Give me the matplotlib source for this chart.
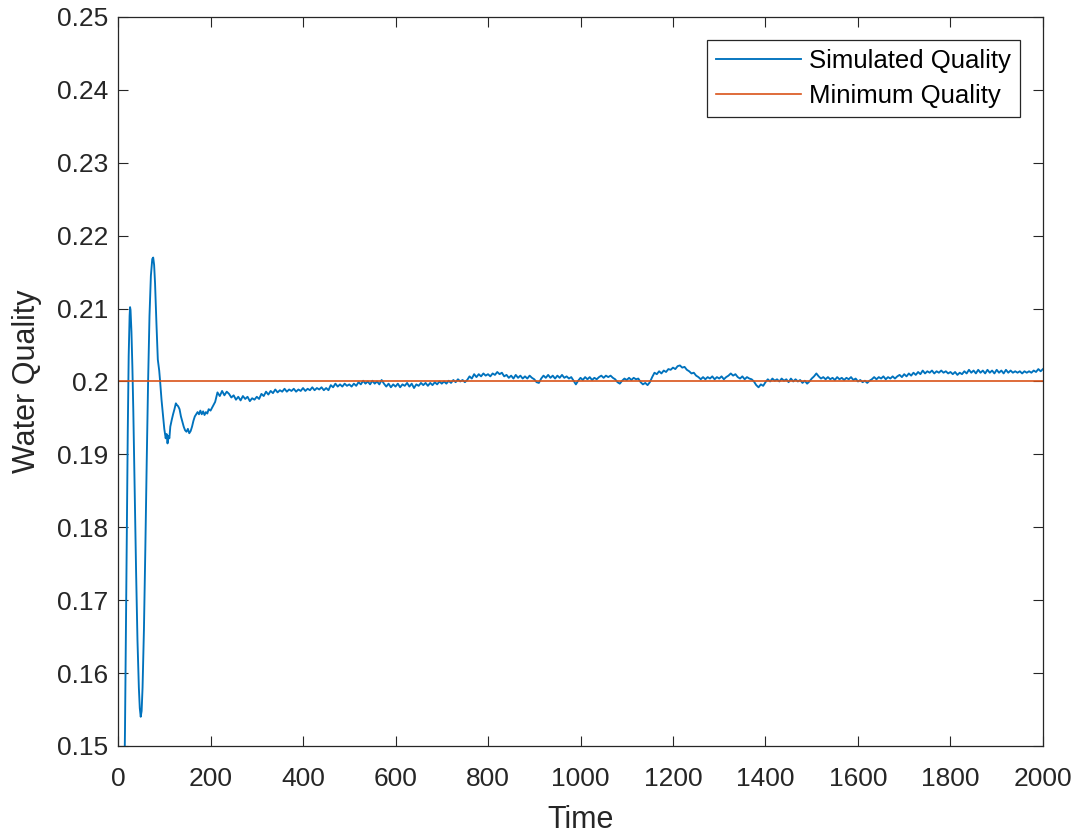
import numpy as np
import matplotlib.pyplot as plt

plt.rcParams['font.family'] = ['Liberation Sans', 'DejaVu Sans']

# start-up transient
t_early = [0, 5, 10, 15, 18, 21, 23, 25, 26, 27, 29, 31, 33, 36, 39, 42, 45, 47, 49, 51,
           53, 56, 59, 62, 65, 68, 71, 74, 76, 78, 80, 83, 86, 89, 91, 94, 97, 100, 103, 105,
           107, 109, 111, 113, 116, 119, 122, 125, 127, 130, 133, 136, 139, 142, 145, 148, 151, 154, 157, 160,
           163, 166, 169, 172, 175, 178, 181, 184, 187, 190, 193, 196]
q_early = [0.060, 0.095, 0.128, 0.152, 0.172, 0.193, 0.2035, 0.2090, 0.2102, 0.2098,
           0.2068, 0.2020, 0.1960, 0.1850, 0.1740, 0.1645, 0.1580, 0.1552, 0.1540, 0.1548,
           0.1580, 0.1660, 0.1770, 0.1890, 0.2000, 0.2090, 0.2145, 0.2168, 0.2170, 0.2160,
           0.2135, 0.2080, 0.2030, 0.2015, 0.2000, 0.1975, 0.1955, 0.1935, 0.1922, 0.1928,
           0.1915, 0.1925, 0.1922, 0.1938, 0.1947, 0.1955, 0.1962, 0.1970, 0.1968, 0.1966,
           0.1962, 0.1952, 0.1945, 0.1938, 0.1933, 0.1931, 0.1935, 0.1929, 0.1932, 0.1938,
           0.1946, 0.1952, 0.1955, 0.1958, 0.1955, 0.1960, 0.1955, 0.1959, 0.1954, 0.1958,
           0.1956, 0.1962]

# steady part, every 5 time units from 200 to 2000
t_late = np.arange(200, 2001, 5)
q_late = [
    0.1960, 0.1966, 0.1972, 0.1985, 0.1980, 0.1987, 0.1981, 0.1986, 0.1983, 0.1978, 0.1981, 0.1975, 0.1979, 0.1974, 0.1980, 0.1976, 0.1979, 0.1973, 0.1977, 0.1975,
    0.1979, 0.1976, 0.1983, 0.1980, 0.1986, 0.1982, 0.1987, 0.1984, 0.1989, 0.1985, 0.1988, 0.1986, 0.1990, 0.1986, 0.1989, 0.1987, 0.1990, 0.1986, 0.1989, 0.1987,
    0.1991, 0.1987, 0.1990, 0.1988, 0.1992, 0.1988, 0.1991, 0.1989, 0.1992, 0.1988, 0.1991, 0.1988, 0.1995, 0.1992, 0.1997, 0.1993, 0.1996, 0.1993, 0.1997, 0.1994,
    0.1996, 0.1993, 0.1997, 0.1994, 0.1999, 0.1996, 0.2001, 0.1997, 0.2000, 0.1996, 0.2001, 0.1997, 0.2000, 0.1996, 0.2002, 0.1997, 0.1993, 0.1997, 0.1992, 0.1996,
    0.1993, 0.1997, 0.1992, 0.1996, 0.1994, 0.1998, 0.1993, 0.1997, 0.1991, 0.1996, 0.1994, 0.1998, 0.1995, 0.1998, 0.1994, 0.1998, 0.1995, 0.1999, 0.1996, 0.2000,
    0.1997, 0.2000, 0.1997, 0.2001, 0.1998, 0.2002, 0.1999, 0.2003, 0.2000, 0.2002, 0.1999, 0.2002, 0.2007, 0.2004, 0.2010, 0.2006, 0.2010, 0.2007, 0.2011, 0.2008,
    0.2010, 0.2007, 0.2011, 0.2009, 0.2013, 0.2010, 0.2012, 0.2007, 0.2009, 0.2005, 0.2008, 0.2004, 0.2009, 0.2005, 0.2008, 0.2004, 0.2007, 0.2004, 0.2008, 0.2005,
    0.2003, 0.1999, 0.1998, 0.2004, 0.2008, 0.2005, 0.2009, 0.2005, 0.2008, 0.2004, 0.2008, 0.2005, 0.2009, 0.2005, 0.2007, 0.2004, 0.2006, 0.2001, 0.1996, 0.2001,
    0.2005, 0.2002, 0.2006, 0.2003, 0.2006, 0.2002, 0.2005, 0.2003, 0.2006, 0.2008, 0.2005, 0.2008, 0.2006, 0.2008, 0.2005, 0.2003, 0.1999, 0.1997, 0.2001, 0.2004,
    0.2002, 0.2005, 0.2002, 0.2005, 0.2003, 0.2004, 0.1999, 0.1996, 0.1998, 0.1995, 0.1999, 0.2006, 0.2012, 0.2010, 0.2014, 0.2011, 0.2015, 0.2013, 0.2017, 0.2016,
    0.2019, 0.2017, 0.2021, 0.2022, 0.2019, 0.2020, 0.2016, 0.2014, 0.2011, 0.2012, 0.2008, 0.2006, 0.2003, 0.2006, 0.2003, 0.2006, 0.2004, 0.2007, 0.2003, 0.2006,
    0.2004, 0.2007, 0.2003, 0.2006, 0.2008, 0.2011, 0.2008, 0.2010, 0.2006, 0.2004, 0.2007, 0.2003, 0.2006, 0.2004, 0.2003, 0.2000, 0.1995, 0.1992, 0.1996, 0.1994,
    0.1999, 0.2003, 0.2000, 0.2004, 0.2001, 0.2003, 0.2000, 0.2004, 0.2001, 0.2003, 0.1999, 0.2004, 0.2000, 0.2003, 0.2000, 0.2002, 0.1998, 0.2001, 0.1997, 0.2000,
    0.2004, 0.2007, 0.2011, 0.2007, 0.2004, 0.2006, 0.2003, 0.2006, 0.2003, 0.2005, 0.2002, 0.2006, 0.2003, 0.2005, 0.2002, 0.2005, 0.2003, 0.2006, 0.2002, 0.2004,
    0.2000, 0.2002, 0.1999, 0.2001, 0.1998, 0.2001, 0.2003, 0.2006, 0.2003, 0.2006, 0.2004, 0.2007, 0.2003, 0.2006, 0.2004, 0.2007, 0.2004, 0.2007, 0.2009, 0.2006,
    0.2010, 0.2007, 0.2011, 0.2008, 0.2012, 0.2009, 0.2013, 0.2010, 0.2015, 0.2011, 0.2014, 0.2012, 0.2015, 0.2011, 0.2014, 0.2012, 0.2015, 0.2012, 0.2014, 0.2011,
    0.2013, 0.2010, 0.2013, 0.2009, 0.2012, 0.2010, 0.2014, 0.2011, 0.2016, 0.2012, 0.2015, 0.2011, 0.2016, 0.2012, 0.2015, 0.2011, 0.2016, 0.2012, 0.2015, 0.2011,
    0.2016, 0.2012, 0.2015, 0.2011, 0.2016, 0.2012, 0.2015, 0.2012, 0.2014, 0.2012, 0.2014, 0.2011, 0.2014, 0.2012, 0.2014, 0.2012, 0.2015, 0.2013, 0.2017, 0.2014,
    0.2017,
]

min_quality = 0.2

time = np.concatenate([t_early, t_late])
quality = np.concatenate([q_early, q_late])

fig = plt.figure(figsize=(10.8, 8.36), dpi=100)
ax = fig.add_axes([0.1093, 0.1077, 0.8564, 0.872])

ax.plot(time, quality, color='#0072BD', lw=1.35, label='Simulated Quality')
ax.axhline(min_quality, color='#D95319', lw=1.2, label='Minimum Quality')

ax.set_xlim(0, 2000)
ax.set_ylim(0.15, 0.25)
ax.set_xticks(np.arange(0, 2001, 200))
ax.set_yticks(np.arange(0.15, 0.2501, 0.01))
ax.set_yticklabels(['0.15', '0.16', '0.17', '0.18', '0.19', '0.2',
                    '0.21', '0.22', '0.23', '0.24', '0.25'])

ax.tick_params(direction='in', length=7, width=0.8, colors='#262626',
               labelsize=19, top=True, right=True)
ax.tick_params(axis='x', pad=15)
ax.tick_params(axis='y', pad=7)
for s in ax.spines.values():
    s.set_color('#262626')
    s.set_linewidth(0.9)

ax.set_xlabel('Time', fontsize=22, color='#262626', labelpad=10)
ax.set_ylabel('Water Quality', fontsize=22, color='#262626', labelpad=11)

leg = ax.legend(loc='upper right', fontsize=18.5, handlelength=3.3, handletextpad=0.3,
                borderaxespad=0.9, fancybox=False, framealpha=1, borderpad=0.35,
                labelspacing=0.42)
leg.get_frame().set_edgecolor('#262626')
leg.get_frame().set_linewidth(0.9)

fig.savefig('out.png', dpi=100)
